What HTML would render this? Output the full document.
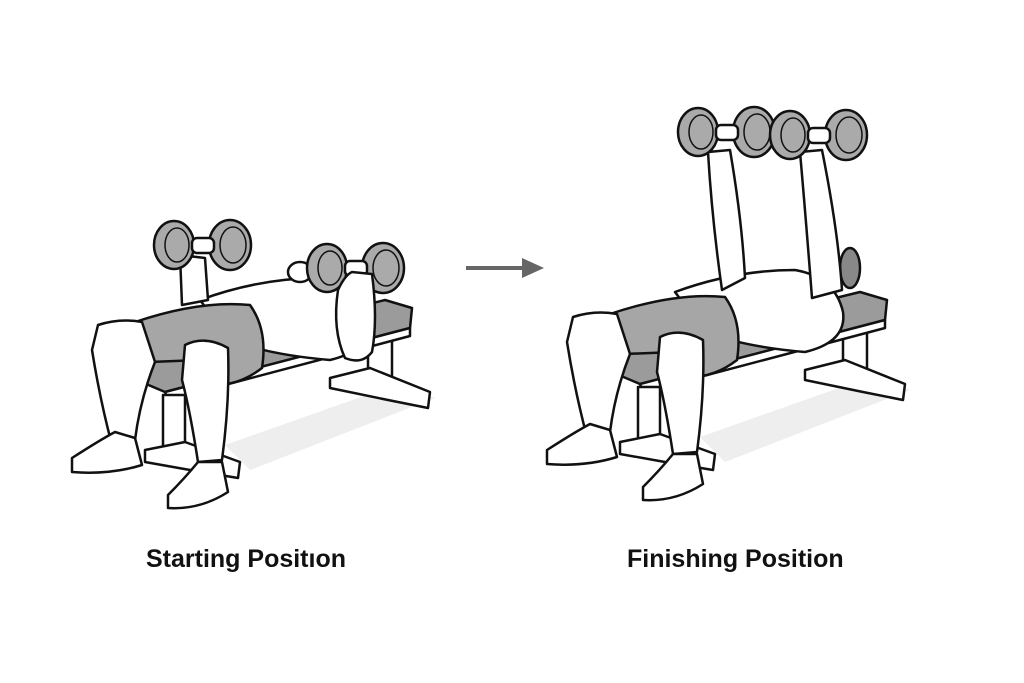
<!DOCTYPE html>
<html><head><meta charset="utf-8"><style>
html,body{margin:0;padding:0;background:#fff;}
.l{position:absolute;top:545px;font:bold 25px "Liberation Sans",sans-serif;color:#111;}
</style></head><body>
<div style="position:relative;width:1024px;height:683px;overflow:hidden">
<svg width="1024" height="683" viewBox="0 0 1024 683" style="position:absolute;left:0;top:0">
<defs>
<g id="base" stroke="#111" stroke-width="2.5" stroke-linejoin="round">
  <polygon points="225,445 395,385 435,398 250,470" fill="#eee" stroke="none"/>
  <rect x="368" y="325" width="24" height="60" fill="#fff"/>
  <polygon points="330,378 370,368 430,392 428,408 388,400 330,388" fill="#fff"/>
  <polygon points="132,362 385,300 412,308 410,328 165,392 132,378" fill="#9b9b9b"/>
  <polygon points="165,392 410,328 410,336 168,400" fill="#fff"/>
  <rect x="163" y="395" width="22" height="62" fill="#fff"/>
  <polygon points="145,450 185,442 240,462 238,478 190,470 145,462" fill="#fff"/>
  <path d="M200,300 Q260,278 320,278 Q360,285 368,320 Q372,350 330,360 Q270,355 230,340 Z" fill="#fff"/>
  <path d="M135,322 Q200,300 250,305 Q268,330 262,368 Q240,385 215,385 L200,360 L150,362 Z" fill="#a6a6a6"/>
  <path d="M98,325 Q120,318 142,322 L155,362 Q140,400 135,440 L112,445 Q100,400 92,350 Z" fill="#fff"/>
  <path d="M72,458 Q100,440 115,432 L135,438 L142,465 Q110,475 72,472 Z" fill="#fff"/>
  <path d="M185,345 Q205,335 228,348 Q230,400 222,460 L198,462 Q190,410 182,380 Z" fill="#fff"/>
  <path d="M168,495 Q185,478 198,462 L222,462 L228,492 Q200,510 168,508 Z" fill="#fff"/>
</g>
<g id="db" stroke="#111" stroke-width="2.5">
  <rect x="-30" y="-5" width="60" height="11" rx="4" fill="#fff"/>
  <ellipse cx="-28" cy="0" rx="20" ry="24" fill="#aaa"/>
  <ellipse cx="-25" cy="0" rx="12" ry="17" fill="none" stroke-width="1.5"/>
  <ellipse cx="28" cy="0" rx="21" ry="25" fill="#aaa"/>
  <ellipse cx="31" cy="0" rx="13" ry="18" fill="none" stroke-width="1.5"/>
  <rect x="-10" y="-7" width="22" height="15" rx="5" fill="#fff"/>
</g>
</defs>
<use href="#base"/>
<g stroke="#111" stroke-width="2.5" fill="#fff" stroke-linejoin="round">
  <ellipse cx="300" cy="272" rx="12" ry="10"/>
  <path d="M180,255 L205,258 L208,300 L182,305 Z"/>
</g>
<use href="#db" transform="translate(202,245)"/>
<use href="#db" transform="translate(355,268)"/>
<path d="M338,290 Q345,275 352,272 L372,274 Q378,320 372,352 Q362,365 345,358 Q332,330 338,290 Z" fill="#fff" stroke="#111" stroke-width="2.5"/>
<line x1="466" y1="268" x2="528" y2="268" stroke="#666" stroke-width="4"/>
<polygon points="544,268 522,258 522,278" fill="#666"/>
<use href="#base" transform="translate(475,-8)"/>
<g stroke="#111" stroke-width="2.5" fill="#fff" stroke-linejoin="round">
  <ellipse cx="850" cy="268" rx="10" ry="20" fill="#888"/>
  <path d="M708,152 L730,150 Q742,220 745,278 L722,290 Q712,220 708,152 Z"/>
  <path d="M800,152 L822,150 Q838,230 842,290 L812,298 Q806,220 800,152 Z"/>
</g>
<use href="#db" transform="translate(726,132)"/>
<use href="#db" transform="translate(818,135)"/>
</svg>
<div class="l" style="left:146px">Starting Positıon</div>
<div class="l" style="left:627px">Finishing Position</div>
</div>
</body></html>
